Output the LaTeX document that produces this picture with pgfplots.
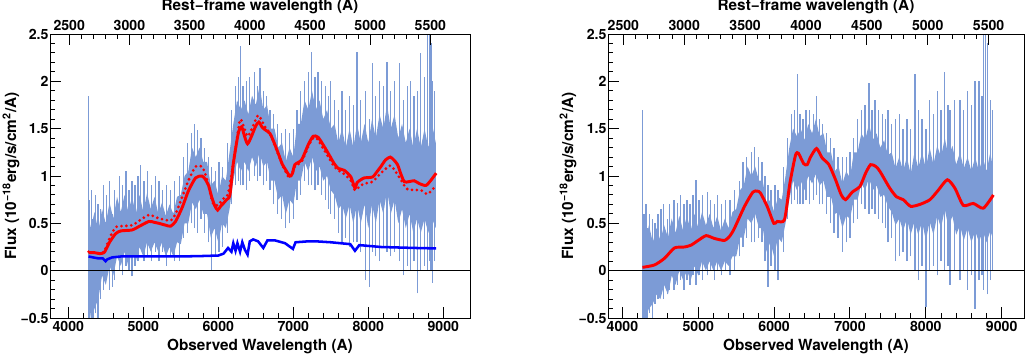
\documentclass[border=0pt]{standalone}
\usepackage{fontspec}
\setmainfont{TeX Gyre Heros}
\usepackage{pgfplots}
\pgfplotsset{compat=1.18}
\usepackage{pgfplotstable}
\usepgfplotslibrary{fillbetween}

\definecolor{specblue}{RGB}{124,155,214}

% observed spectrum, left panel: dense part of the noisy flux
\pgfplotstableread{
x hi lo
4265 0.60 -0.25
4300 0.45 -0.50
4350 0.62 -0.40
4400 0.42 -0.30
4450 0.65 -0.05
4500 0.50 -0.15
4550 0.72 0.05
4600 0.55 -0.05
4650 0.78 0.15
4700 0.62 0.05
4750 0.80 0.20
4800 0.62 0.05
4850 0.78 0.20
4900 0.60 0.10
4950 0.80 0.25
5000 0.62 0.15
5050 0.82 0.30
5100 0.65 0.20
5150 0.78 0.30
5200 0.60 0.20
5250 0.72 0.30
5300 0.58 0.15
5350 0.70 0.25
5400 0.60 0.15
5450 0.78 0.30
5500 0.80 0.28
5550 1.00 0.50
5600 1.05 0.50
5650 1.30 0.72
5700 1.20 0.65
5750 1.30 0.75
5800 1.15 0.60
5850 1.15 0.60
5900 0.90 0.35
5950 0.95 0.45
6000 0.80 0.30
6050 1.00 0.50
6100 0.95 0.45
6150 1.25 0.65
6200 1.55 0.95
6250 1.80 1.15
6300 1.70 1.05
6350 1.80 1.15
6400 1.65 1.05
6450 1.85 1.20
6500 1.75 1.10
6550 1.95 1.25
6600 1.70 1.10
6650 1.75 1.15
6700 1.50 0.95
6750 1.50 0.95
6800 1.30 0.75
6850 1.35 0.80
6900 1.15 0.60
6950 1.30 0.75
7000 1.20 0.70
7050 1.55 0.95
7100 1.55 0.95
7150 1.80 1.15
7200 1.70 1.05
7250 1.90 1.20
7300 1.70 1.05
7350 1.80 1.10
7400 1.60 0.95
7450 1.70 1.00
7500 1.50 0.85
7550 1.55 0.80
7600 1.35 0.65
7650 1.50 0.70
7700 1.30 0.55
7750 1.50 0.70
7800 1.30 0.50
7850 1.55 0.70
7900 1.35 0.50
7950 1.55 0.70
8000 1.35 0.45
8050 1.60 0.70
8100 1.40 0.50
8150 1.65 0.75
8200 1.50 0.60
8250 1.75 0.85
8300 1.50 0.60
8350 1.65 0.75
8400 1.40 0.50
8450 1.55 0.65
8500 1.35 0.45
8550 1.50 0.60
8600 1.30 0.40
8650 1.50 0.55
8700 1.30 0.40
8750 1.50 0.55
8800 1.30 0.40
8850 1.55 0.55
8900 1.35 0.45
}\specL

% single noise spikes, left panel
\pgfplotstableread{
x lo hi
4270 -0.50 1.85
4285 -0.50 0.75
4310 -0.50 0.85
4330 -0.50 0.55
4360 -0.45 0.80
4395 -0.50 0.70
4430 -0.30 0.65
4470 -0.20 0.90
4510 -0.05 0.80
4545 -0.20 0.95
4590 -0.17 0.60
4620 -0.10 0.85
4680 0.00 1.00
4720 -0.05 0.90
4770 0.05 1.05
4810 0.00 0.85
4850 -0.06 0.95
4890 0.05 0.90
4930 0.10 1.00
4964 0.25 1.12
5010 0.10 0.95
5060 0.15 1.05
5110 0.10 0.90
5160 0.20 1.00
5210 0.10 0.95
5260 0.20 0.85
5310 0.05 0.90
5360 0.15 0.85
5420 0.10 0.95
5480 0.10 1.00
5540 0.35 1.20
5590 0.40 1.35
5640 0.50 1.45
5680 0.45 1.55
5720 0.40 1.49
5770 0.55 1.40
5820 0.40 1.30
5870 0.30 1.20
5911 0.00 1.10
5960 0.15 1.05
6010 0.20 1.15
6060 0.25 1.10
6120 0.40 1.35
6180 0.70 1.70
6230 0.90 1.95
6270 0.95 2.05
6297 0.90 2.37
6330 0.90 1.95
6380 0.85 2.00
6420 0.95 2.05
6480 1.00 2.10
6520 0.95 1.95
6555 1.00 2.14
6600 0.90 1.90
6640 0.95 1.85
6690 0.85 1.70
6740 0.70 1.65
6790 0.60 1.55
6840 0.55 1.45
6900 0.45 1.50
6950 0.50 1.45
7000 0.55 1.50
7050 0.75 1.70
7100 0.80 1.90
7150 0.95 2.00
7200 0.90 2.10
7243 0.90 2.31
7290 0.85 2.05
7330 0.90 2.10
7380 0.80 2.00
7430 0.75 1.95
7470 0.65 1.85
7500 0.60 2.00
7550 0.55 1.80
7600 0.40 1.70
7650 0.30 1.90
7700 0.35 1.70
7750 0.25 1.85
7800 0.30 1.75
7848 0.30 2.31
7900 0.20 1.80
7960 -0.10 1.90
8013 -0.17 1.60
8057 0.20 2.19
8100 0.15 1.85
8150 0.10 2.00
8200 0.25 1.95
8250 0.20 2.20
8300 0.15 1.90
8350 0.20 2.00
8412 0.10 2.19
8470 -0.05 1.80
8520 0.05 1.95
8560 0.00 2.00
8610 0.10 1.85
8656 -0.24 1.90
8700 0.00 2.30
8745 0.05 2.05
8790 0.00 2.60
8815 0.10 2.60
8834 0.00 2.40
8856 -0.13 2.00
8880 0.10 1.90
}\spikeL

% observed spectrum, right panel
\pgfplotstableread{
x hi lo
4265 0.45 -0.30
4300 0.30 -0.50
4350 0.48 -0.40
4400 0.30 -0.35
4450 0.45 -0.25
4500 0.32 -0.30
4550 0.48 -0.15
4600 0.35 -0.25
4650 0.55 -0.05
4700 0.40 -0.15
4750 0.58 0.00
4800 0.42 -0.10
4850 0.58 0.00
4900 0.42 -0.10
4950 0.60 0.05
5000 0.45 -0.05
5050 0.62 0.10
5100 0.48 0.00
5150 0.60 0.10
5200 0.45 0.00
5250 0.58 0.10
5300 0.42 0.00
5350 0.55 0.10
5400 0.45 0.05
5450 0.62 0.15
5500 0.65 0.15
5550 0.85 0.35
5600 0.90 0.35
5650 1.10 0.55
5700 1.00 0.50
5750 1.10 0.60
5800 0.95 0.45
5850 0.95 0.45
5900 0.70 0.20
5950 0.75 0.30
6000 0.62 0.15
6050 0.78 0.35
6100 0.75 0.30
6150 1.00 0.50
6200 1.30 0.75
6250 1.50 0.95
6300 1.42 0.85
6350 1.50 0.95
6400 1.38 0.85
6450 1.55 1.00
6500 1.45 0.92
6550 1.60 1.02
6600 1.42 0.90
6650 1.45 0.95
6700 1.25 0.78
6750 1.25 0.78
6800 1.05 0.60
6850 1.10 0.62
6900 0.92 0.45
6950 1.05 0.58
7000 0.98 0.55
7050 1.25 0.75
7100 1.25 0.75
7150 1.45 0.92
7200 1.38 0.85
7250 1.55 0.98
7300 1.38 0.85
7350 1.45 0.90
7400 1.30 0.78
7450 1.38 0.80
7500 1.22 0.68
7550 1.25 0.62
7600 1.08 0.48
7650 1.20 0.55
7700 1.05 0.42
7750 1.20 0.55
7800 1.02 0.38
7850 1.25 0.52
7900 1.08 0.38
7950 1.25 0.52
8000 1.08 0.32
8050 1.30 0.52
8100 1.12 0.38
8150 1.32 0.58
8200 1.20 0.45
8250 1.40 0.65
8300 1.20 0.45
8350 1.32 0.58
8400 1.12 0.38
8450 1.25 0.48
8500 1.08 0.32
8550 1.20 0.45
8600 1.05 0.30
8650 1.20 0.42
8700 1.05 0.30
8750 1.20 0.42
8800 1.05 0.30
8850 1.25 0.42
8880 1.10 0.35
}\specR

\pgfplotstableread{
x lo hi
4264 -0.50 1.70
4285 -0.50 0.60
4310 -0.50 0.70
4330 -0.50 0.45
4360 -0.45 0.60
4395 -0.50 0.55
4430 -0.35 0.50
4470 -0.30 0.60
4510 -0.25 0.65
4545 -0.30 0.70
4590 -0.25 0.55
4620 -0.20 0.70
4680 -0.20 0.75
4730 -0.15 0.71
4770 -0.10 0.80
4810 -0.20 0.70
4850 -0.10 0.75
4890 -0.15 0.70
4930 -0.05 0.80
4972 -0.15 0.96
5010 -0.05 0.75
5060 -0.10 0.80
5120 -0.05 0.83
5160 0.00 0.75
5210 -0.10 0.70
5250 0.00 0.80
5310 -0.05 0.70
5360 0.00 0.75
5420 -0.05 0.75
5480 0.00 0.85
5540 0.15 0.95
5590 0.25 1.15
5640 0.35 1.20
5700 0.30 1.25
5742 0.30 1.31
5790 0.35 1.20
5840 0.30 1.15
5880 0.10 1.00
5917 -0.17 0.90
5960 0.05 0.85
6010 0.00 0.90
6050 -0.10 0.85
6120 0.20 1.10
6180 0.55 1.40
6230 0.70 1.65
6270 0.75 1.70
6304 0.70 2.08
6340 0.70 1.65
6380 0.70 1.60
6420 0.75 1.70
6470 0.70 1.70
6520 0.75 1.65
6559 0.80 1.84
6600 0.70 1.60
6640 0.70 1.55
6690 0.60 1.45
6740 0.50 1.40
6790 0.40 1.30
6840 0.35 1.20
6900 0.20 1.20
6950 0.30 1.20
7000 0.35 1.25
7050 0.50 1.40
7100 0.55 1.60
7150 0.70 1.70
7200 0.65 1.75
7250 0.60 1.98
7290 0.65 1.70
7330 0.60 1.80
7380 0.55 1.70
7430 0.50 1.65
7470 0.45 1.60
7500 0.30 1.70
7550 0.35 1.55
7600 0.10 1.60
7650 0.15 1.65
7700 0.20 1.50
7750 0.10 1.60
7800 0.15 1.50
7856 0.00 2.08
7900 -0.10 1.70
7950 0.05 1.60
8001 -0.38 1.50
8050 0.00 1.80
8100 0.05 1.65
8150 -0.05 1.90
8200 0.10 1.70
8250 0.00 2.10
8290 0.05 1.75
8320 -0.15 1.70
8380 0.00 1.80
8450 -0.10 1.80
8500 0.00 1.70
8550 -0.20 1.90
8600 -0.05 1.75
8650 -0.40 2.00
8700 -0.10 2.00
8740 -0.05 1.85
8760 -0.20 2.60
8785 0.00 2.60
8810 -0.25 2.40
8850 -0.10 1.80
8875 0.00 1.70
}\spikeR

\pgfplotsset{
  rootaxis/.style={
    scale only axis, height=213pt,
    ymin=-0.5, ymax=2.5,
    ytick={-0.5,0,0.5,1,1.5,2,2.5},
    yticklabels={−0.5,0,0.5,1,1.5,2,2.5},
    minor y tick num=4,
    xtick={4000,5000,...,9000},
    minor x tick num=4,
    xtick pos=left, ytick pos=left,
    tick align=inside,
    major tick length=8pt, minor tick length=4pt,
    axis line style={line width=0.75pt},
    every tick/.append style={black, line width=0.75pt},
    tick label style={font=\bfseries\fontsize{10.6}{12}\selectfont},
    yticklabel style={inner sep=1pt},
    xticklabel style={inner sep=2pt},
    label style={font=\bfseries\fontsize{11.5}{13}\selectfont},
    /pgf/number format/1000 sep={},
    /pgf/number format/assume math mode=true,
    xlabel={Observed Wavelength (A)},
    ylabel={Flux (10\textsuperscript{−18}erg/s/cm\textsuperscript{2}/A)},
    xlabel style={at={(axis description cs:0.5,-0.102)}, anchor=center},
  },
  restaxis/.style={
    scale only axis, height=213pt,
    ymin=-0.5, ymax=2.5,
    axis x line*=top, axis y line=none,
    xtick={2500,3000,...,5500},
    minor x tick num=4,
    tick align=inside,
    major tick length=8pt, minor tick length=4pt,
    axis line style={line width=0.75pt},
    every tick/.append style={black, line width=0.75pt},
    tick label style={font=\bfseries\fontsize{10.6}{12}\selectfont},
    xticklabel style={inner sep=2pt},
    label style={font=\bfseries\fontsize{11.5}{13}\selectfont},
    /pgf/number format/1000 sep={},
    /pgf/number format/assume math mode=true,
    xlabel={Rest−frame wavelength (A)},
    xlabel style={at={(axis description cs:0.5,1.095)}, anchor=center},
  },
  spikes/.style={draw=none, mark=none, forget plot,
    error bars/.cd, y dir=plus, y explicit, error mark=none,
    error bar style={specblue, line width=1pt}},
  dotmodel/.style={red, line width=2.3pt, line cap=round,
    dash pattern=on 0pt off 3.7pt, smooth, tension=0.4},
}

\begin{document}
\begin{tikzpicture}
% ---- left panel
\begin{axis}[rootaxis, at={(0pt,0pt)}, anchor=south west, width=315pt,
  xmin=3756, xmax=9356,
  ylabel style={at={(axis description cs:-0.093,0.5)}, anchor=center}]
\addplot[name path=hiL, draw=none, forget plot] table[x=x,y=hi]{\specL};
\addplot[name path=loL, draw=none, forget plot] table[x=x,y=lo]{\specL};
\addplot[specblue, forget plot] fill between[of=hiL and loL];
\addplot[spikes] table[x=x, y=lo, y error plus expr=\thisrow{hi}-\thisrow{lo}]{\spikeL};
\addplot[black, line width=0.75pt, forget plot] coordinates {(3756,0) (9356,0)};
% stellar template
\addplot[blue, line width=1.9pt] coordinates {
(4270,0.15) (4330,0.14) (4400,0.13) (4460,0.13) (4497,0.10) (4520,0.12)
(4585,0.14) (4700,0.15) (5000,0.15) (5500,0.15) (5800,0.155) (6000,0.16)
(6070,0.18) (6090,0.20) (6130,0.24) (6175,0.20) (6200,0.29) (6230,0.21)
(6255,0.29) (6290,0.20) (6320,0.30) (6355,0.22) (6390,0.17) (6420,0.31)
(6465,0.33) (6530,0.31) (6600,0.24) (6655,0.32) (6755,0.32) (6890,0.29)
(6995,0.23) (7030,0.30) (7200,0.31) (7300,0.31) (7500,0.30) (7760,0.28)
(7822,0.21) (7880,0.27) (8168,0.25) (8612,0.24) (8905,0.235)};
% model with template
\addplot[dotmodel] coordinates {
(4270,0.20) (4350,0.19) (4420,0.18) (4475,0.20) (4520,0.28) (4560,0.36)
(4630,0.46) (4700,0.47) (4853,0.48) (4950,0.53) (5075,0.59) (5150,0.57)
(5220,0.55) (5364,0.53) (5430,0.60) (5520,0.78) (5600,0.95) (5697,1.10)
(5780,1.10) (5822,1.03) (5870,0.90) (5930,0.71) (5991,0.69) (6066,0.76)
(6133,0.82) (6222,1.24) (6288,1.59) (6332,1.54) (6390,1.42) (6443,1.49)
(6533,1.64) (6621,1.52) (6688,1.45) (6799,1.23) (6887,1.06) (6954,0.98)
(7021,1.10) (7110,1.15) (7199,1.31) (7265,1.40) (7330,1.38) (7546,1.10)
(7680,1.02) (7768,0.95) (7822,0.85) (7900,0.90) (7946,0.92) (8057,0.94)
(8168,1.03) (8292,1.11) (8360,1.05) (8435,0.96) (8523,0.86) (8700,0.85)
(8790,0.81) (8905,0.90)};
\addplot[red, line width=2.2pt, smooth, tension=0.4] coordinates {
(4270,0.19) (4350,0.19) (4420,0.18) (4475,0.19) (4500,0.22) (4550,0.30)
(4630,0.39) (4700,0.42) (4850,0.43) (4950,0.47) (5075,0.52) (5150,0.51)
(5208,0.50) (5300,0.48) (5364,0.47) (5430,0.52) (5520,0.67) (5600,0.84)
(5697,0.98) (5780,1.00) (5822,0.97) (5870,0.90) (5911,0.78) (5950,0.69)
(5991,0.64) (6030,0.68) (6066,0.71) (6110,0.75) (6155,0.80) (6200,1.13)
(6266,1.45) (6310,1.52) (6350,1.42) (6390,1.34) (6443,1.42) (6500,1.53)
(6541,1.57) (6580,1.52) (6621,1.49) (6688,1.45) (6740,1.36) (6799,1.24)
(6850,1.13) (6887,1.08) (6954,1.00) (6990,1.03) (7021,1.12) (7110,1.17)
(7199,1.33) (7265,1.42) (7330,1.41) (7413,1.31) (7480,1.22) (7546,1.13)
(7600,1.08) (7680,1.06) (7768,0.99) (7822,0.87) (7850,0.93) (7900,0.96)
(7946,0.98) (8057,0.99) (8120,1.05) (8168,1.10) (8230,1.17) (8292,1.20)
(8340,1.17) (8390,1.12) (8430,1.03) (8479,0.94) (8540,0.94) (8612,0.95)
(8680,0.92) (8767,0.90) (8830,0.95) (8905,1.03)};
\end{axis}
\begin{axis}[restaxis, at={(0pt,0pt)}, anchor=south west, width=315pt,
  xmin=2340.2, xmax=5829.3]
\addplot[draw=none] coordinates {(3000,0)};
\end{axis}

% ---- right panel
\begin{axis}[rootaxis, at={(418.5pt,0pt)}, anchor=south west, width=312pt,
  xmin=3810, xmax=9294,
  ylabel style={at={(axis description cs:-0.096,0.5)}, anchor=center}]
\addplot[name path=hiR, draw=none, forget plot] table[x=x,y=hi]{\specR};
\addplot[name path=loR, draw=none, forget plot] table[x=x,y=lo]{\specR};
\addplot[specblue, forget plot] fill between[of=hiR and loR];
\addplot[spikes] table[x=x, y=lo, y error plus expr=\thisrow{hi}-\thisrow{lo}]{\spikeR};
\addplot[black, line width=0.75pt, forget plot] coordinates {(3810,0) (9294,0)};
\addplot[red, line width=2.2pt, smooth, tension=0.4] coordinates {
(4264,0.035) (4422,0.06) (4554,0.13) (4686,0.24) (4818,0.25) (4906,0.27)
(5000,0.32) (5104,0.37) (5214,0.34) (5346,0.32) (5420,0.37) (5478,0.45)
(5610,0.68) (5720,0.83) (5780,0.84) (5820,0.82) (5908,0.68) (5996,0.50)
(6040,0.52) (6137,0.54) (6207,0.92) (6282,1.22) (6320,1.24) (6390,1.13)
(6436,1.12) (6480,1.20) (6559,1.29) (6634,1.19) (6722,1.12) (6810,0.96)
(6885,0.80) (6942,0.75) (7030,0.83) (7131,0.89) (7206,1.03) (7272,1.12)
(7342,1.10) (7394,1.05) (7526,0.87) (7614,0.78) (7702,0.75) (7799,0.68)
(7922,0.70) (8054,0.75) (8164,0.85) (8283,0.96) (8384,0.87) (8494,0.69)
(8626,0.71) (8758,0.66) (8890,0.80)};
\end{axis}
\begin{axis}[restaxis, at={(418.5pt,0pt)}, anchor=south west, width=312pt,
  xmin=2373.8, xmax=5790.7]
\addplot[draw=none] coordinates {(3000,0)};
\end{axis}

\pgfresetboundingbox
\path[use as bounding box] (-37.5pt,-27pt) rectangle (733.5pt,238.5pt);
\end{tikzpicture}
\end{document}
